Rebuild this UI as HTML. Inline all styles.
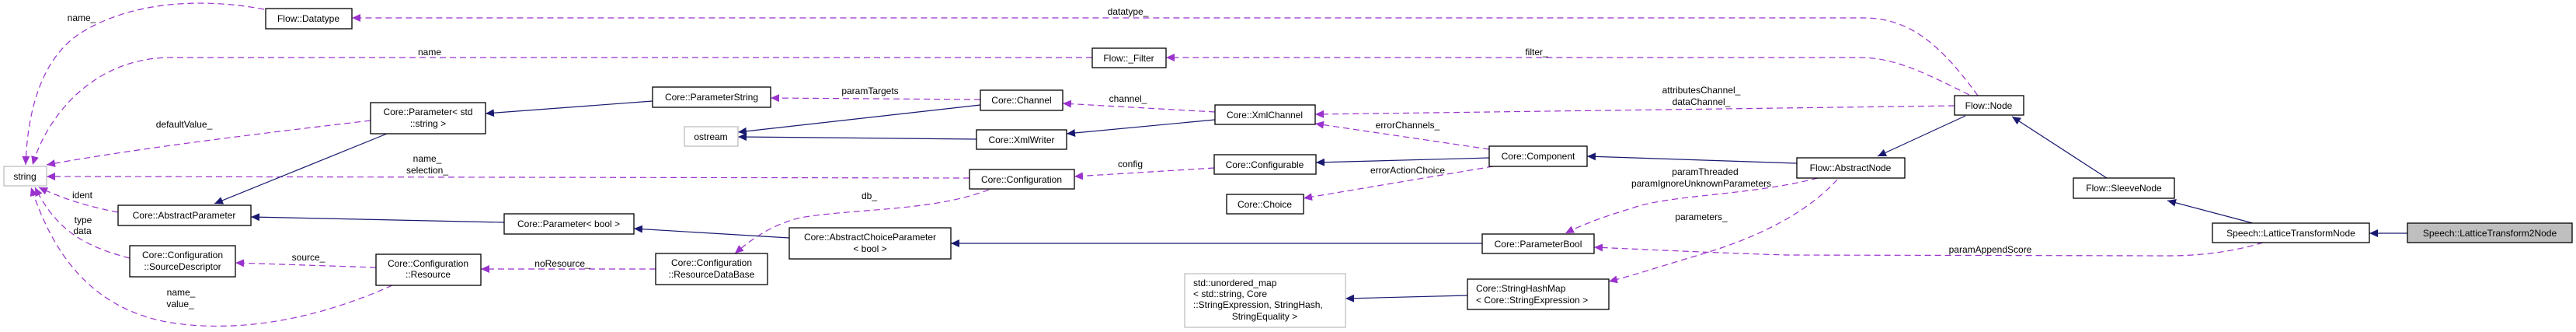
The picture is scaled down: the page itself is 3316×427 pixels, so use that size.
<!DOCTYPE html>
<html><head><meta charset="utf-8"><style>
html,body{margin:0;padding:0;background:#fff;}
svg{display:block;}
text{font-family:"Liberation Sans",sans-serif;font-size:12px;fill:#000;}
.b{fill:#fff;stroke:#000;stroke-width:1.3;}
.g{fill:#fff;stroke:#bfbfbf;stroke-width:1.3;}
.p{fill:none;stroke:#9a32cd;stroke-width:1.2;stroke-dasharray:8,5;}
.n{fill:none;stroke:#191970;stroke-width:1.2;}
</style></head><body>
<svg width="3316" height="427" viewBox="0 0 3316 427" xmlns="http://www.w3.org/2000/svg">
<defs>
<marker id="ap" markerWidth="12" markerHeight="10" refX="11" refY="5" orient="auto" markerUnits="userSpaceOnUse"><path d="M0,0 L11,5 L0,10 z" fill="#9a32cd"/></marker>
<marker id="an" markerWidth="12" markerHeight="10" refX="11" refY="5" orient="auto" markerUnits="userSpaceOnUse"><path d="M0,0 L11,5 L0,10 z" fill="#191970"/></marker>
</defs>

<!-- purple dashed edges -->
<path class="p" marker-end="url(#ap)" d="M2546,123 C2500,60 2460,23 2399,23 L453,23"/>
<path class="p" marker-end="url(#ap)" d="M2535,122 C2480,95 2440,74 2394,74 L1501,74"/>
<path class="p" marker-end="url(#ap)" d="M1406,74 L220,74 C120,74 60,150 42,212"/>
<path class="p" marker-end="url(#ap)" d="M340,12 C250,-5 160,5 100,45 C50,80 35,150 33,212"/>
<path class="p" marker-end="url(#ap)" d="M2516,136 L1693,147"/>
<path class="p" marker-end="url(#ap)" d="M1564,144 L1368,133"/>
<path class="p" marker-end="url(#ap)" d="M1262,128 L992,126"/>
<path class="p" marker-end="url(#ap)" d="M1917,192 L1693,159"/>
<path class="p" marker-end="url(#ap)" d="M1922,214 L1678,255"/>
<path class="p" marker-end="url(#ap)" d="M1563,216 L1383,227"/>
<path class="p" marker-end="url(#ap)" d="M1248,229 L60,227"/>
<path class="p" marker-end="url(#ap)" d="M1273,244 C1200,272 1100,268 1030,280 C990,290 965,310 946,326"/>
<path class="p" marker-end="url(#ap)" d="M844,346 L619,346"/>
<path class="p" marker-end="url(#ap)" d="M484,344 L303,338"/>
<path class="p" marker-end="url(#ap)" d="M505,367 C420,405 320,430 220,415 C100,395 60,300 40,241"/>
<path class="p" marker-end="url(#ap)" d="M167,332 C100,315 70,290 45,241"/>
<path class="p" marker-end="url(#ap)" d="M152,273 C110,265 80,255 50,241"/>
<path class="p" marker-end="url(#ap)" d="M477,155 C350,170 180,190 60,212"/>
<path class="p" marker-end="url(#ap)" d="M2340,229 C2250,252 2150,250 2100,268 C2060,280 2035,290 2015,300"/>
<path class="p" marker-end="url(#ap)" d="M2365,231 C2320,280 2250,310 2180,330 C2130,345 2100,355 2071,362"/>
<path class="p" marker-end="url(#ap)" d="M2913,312 C2880,322 2840,329 2790,329 L2300,328 C2200,325 2100,320 2052,318"/>

<!-- navy solid edges -->
<path class="n" marker-end="url(#an)" d="M3099,300 L3050,300"/>
<path class="n" marker-end="url(#an)" d="M2900,287 L2790,258"/>
<path class="n" marker-end="url(#an)" d="M2712,229 L2590,150"/>
<path class="n" marker-end="url(#an)" d="M2530,149 L2417,201"/>
<path class="n" marker-end="url(#an)" d="M2313,210 L2043,201"/>
<path class="n" marker-end="url(#an)" d="M1917,203 L1694,209"/>
<path class="n" marker-end="url(#an)" d="M1564,154 L1373,172"/>
<path class="n" marker-end="url(#an)" d="M1262,135 L950,170"/>
<path class="n" marker-end="url(#an)" d="M1257,179 L950,176"/>
<path class="n" marker-end="url(#an)" d="M840,130 L625,146"/>
<path class="n" marker-end="url(#an)" d="M498,172 L276,262"/>
<path class="n" marker-end="url(#an)" d="M1908,313 L1224,313"/>
<path class="n" marker-end="url(#an)" d="M1016,306 L816,294"/>
<path class="n" marker-end="url(#an)" d="M649,286 L323,279"/>
<path class="n" marker-end="url(#an)" d="M1889,380 L1732,384"/>

<!-- edge labels -->
<g text-anchor="middle">
<text x="105" y="27">name_</text>
<text x="553" y="71">name</text>
<text x="237" y="164">defaultValue_</text>
<text x="550" y="208">name_</text>
<text x="550" y="223">selection_</text>
<text x="106" y="255">ident</text>
<text x="107" y="287">type</text>
<text x="106" y="301">data</text>
<text x="397" y="335">source_</text>
<text x="233" y="380">name_</text>
<text x="232" y="395">value_</text>
<text x="724" y="343">noResource_</text>
<text x="1120" y="121">paramTargets</text>
<text x="1119" y="256">db_</text>
<text x="1452" y="19">datatype_</text>
<text x="1978" y="71">filter_</text>
<text x="1452" y="131">channel_</text>
<text x="1812" y="165">errorChannels_</text>
<text x="1455" y="215">config</text>
<text x="1812" y="223">errorActionChoice</text>
<text x="2190" y="120">attributesChannel_</text>
<text x="2190" y="135">dataChannel_</text>
<text x="2195" y="225">paramThreaded</text>
<text x="2190" y="240">paramIgnoreUnknownParameters</text>
<text x="2190" y="283">parameters_</text>
<text x="2562" y="325">paramAppendScore</text>
</g>

<!-- nodes -->
<g text-anchor="middle">
<rect class="b" x="342" y="11" width="111" height="26"/><text x="397" y="28">Flow::Datatype</text>
<rect class="g" x="5" y="214" width="55" height="25"/><text x="32" y="231">string</text>
<rect class="b" x="477" y="132" width="148" height="40"/><text x="551" y="148">Core::Parameter&lt; std</text><text x="551" y="163">::string &gt;</text>
<rect class="b" x="152" y="264" width="171" height="26"/><text x="237" y="281">Core::AbstractParameter</text>
<rect class="b" x="167" y="316" width="136" height="40"/><text x="235" y="332">Core::Configuration</text><text x="235" y="347">::SourceDescriptor</text>
<rect class="b" x="484" y="327" width="135" height="40"/><text x="551" y="343">Core::Configuration</text><text x="551" y="357">::Resource</text>
<rect class="b" x="649" y="275" width="167" height="26"/><text x="732" y="292">Core::Parameter&lt; bool &gt;</text>
<rect class="b" x="840" y="112" width="152" height="26"/><text x="916" y="129">Core::ParameterString</text>
<rect class="b" x="1262" y="116" width="106" height="26"/><text x="1315" y="133">Core::Channel</text>
<rect class="g" x="881" y="163" width="69" height="25"/><text x="915" y="180">ostream</text>
<rect class="b" x="1257" y="167" width="116" height="25"/><text x="1315" y="184">Core::XmlWriter</text>
<rect class="b" x="1248" y="218" width="135" height="25"/><text x="1315" y="235">Core::Configuration</text>
<rect class="b" x="1016" y="293" width="208" height="40"/><text x="1120" y="309">Core::AbstractChoiceParameter</text><text x="1120" y="324">&lt; bool &gt;</text>
<rect class="b" x="844" y="326" width="144" height="40"/><text x="916" y="342">Core::Configuration</text><text x="916" y="357">::ResourceDataBase</text>
<rect class="b" x="1406" y="62" width="95" height="25"/><text x="1453" y="79">Flow::_Filter</text>
<rect class="b" x="1564" y="135" width="129" height="25"/><text x="1628" y="152">Core::XmlChannel</text>
<rect class="b" x="1563" y="199" width="131" height="25"/><text x="1628" y="216">Core::Configurable</text>
<rect class="b" x="1579" y="250" width="99" height="25"/><text x="1628" y="267">Core::Choice</text>
<rect class="b" x="1917" y="188" width="126" height="26"/><text x="1980" y="205">Core::Component</text>
<rect class="b" x="1908" y="301" width="144" height="25"/><text x="1980" y="318">Core::ParameterBool</text>
<rect class="g" x="1525" y="352" width="207" height="69"/>
<text x="1536" y="368" text-anchor="start">std::unordered_map</text>
<text x="1536" y="382" text-anchor="start">&lt; std::string, Core</text>
<text x="1536" y="396" text-anchor="start">::StringExpression, StringHash,</text>
<text x="1628" y="411">StringEquality &gt;</text>
<rect class="b" x="1889" y="359" width="182" height="39"/><text x="1900" y="375" text-anchor="start">Core::StringHashMap</text><text x="1900" y="390" text-anchor="start">&lt; Core::StringExpression &gt;</text>
<rect class="b" x="2516" y="123" width="89" height="25"/><text x="2560" y="140">Flow::Node</text>
<rect class="b" x="2313" y="203" width="139" height="26"/><text x="2382" y="220">Flow::AbstractNode</text>
<rect class="b" x="2669" y="229" width="130" height="26"/><text x="2734" y="246">Flow::SleeveNode</text>
<rect class="b" x="2848" y="287" width="202" height="25"/><text x="2949" y="304">Speech::LatticeTransformNode</text>
<rect x="3099" y="287" width="212" height="25" fill="#bfbfbf" stroke="#000" stroke-width="1.3"/><text x="3205" y="304">Speech::LatticeTransform2Node</text>
</g>
</svg>
</body></html>
